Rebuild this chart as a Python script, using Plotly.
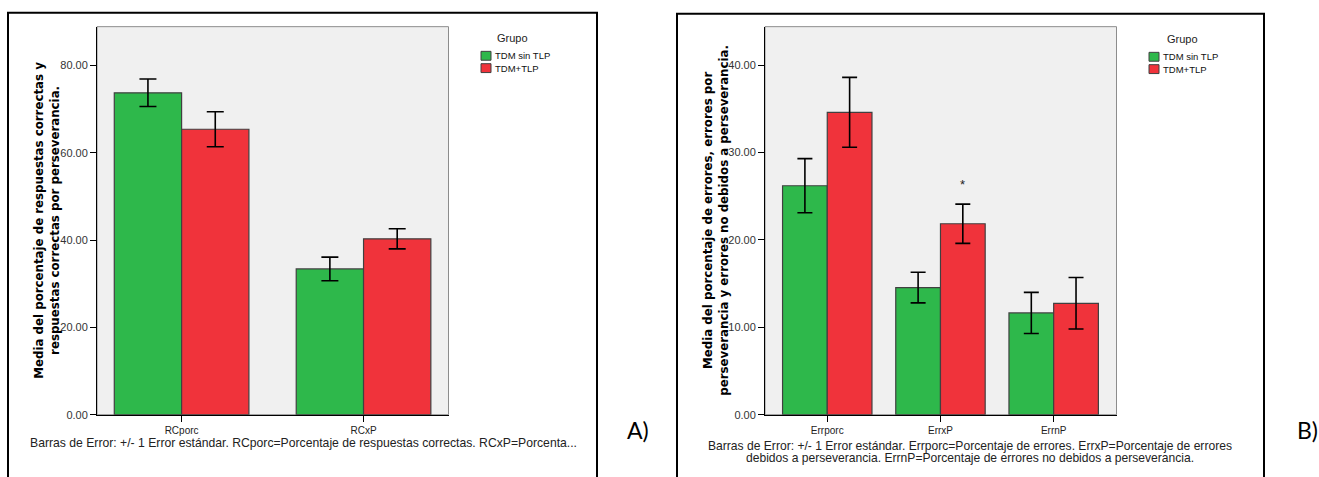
import plotly.graph_objects as go

# ---- data -------------------------------------------------------------
groups = ["TDM sin TLP", "TDM+TLP"]
group_colors = ["#2eb84b", "#f0333b"]

# Panel A: percentage of correct responses
cats_a = ["RCporc", "RCxP"]
mean_a_sin = [73.75, 33.4]
se_a_sin = [3.15, 2.7]
mean_a_tlp = [65.4, 40.3]
se_a_tlp = [4.0, 2.3]

# Panel B: percentage of errors
cats_b = ["Errporc", "ErrxP", "ErrnP"]
mean_b_sin = [26.2, 14.55, 11.65]
se_b_sin = [3.1, 1.75, 2.35]
mean_b_tlp = [34.6, 21.85, 12.75]
se_b_tlp = [4.0, 2.25, 2.95]

# significance marker above ErrxP (TDM+TLP)
star_cat_index = 1
star_y = 26.3

yticks_a = [0, 20, 40, 60, 80]
yticks_b = [0, 10, 20, 30, 40]

ytitle_a = "<b>Media del porcentaje de respuestas correctas y<br>respuestas correctas por perseverancia.</b>"
ytitle_b = "<b>Media del porcentaje de errores, errores por<br>perseverancia y errores no debidos a perseverancia.</b>"
caption_a = "Barras de Error: +/- 1 Error estándar. RCporc=Porcentaje de respuestas correctas. RCxP=Porcenta..."
caption_b = ["Barras de Error: +/- 1 Error estándar. Errporc=Porcentaje de errores. ErrxP=Porcentaje de errores",
             "debidos a perseverancia. ErrnP=Porcentaje de errores no debidos a perseverancia."]

# ---- layout helpers (pixel -> paper) ----------------------------------
W, H = 1319, 477


def px(x):
    return x / W


def py(y):
    return 1 - y / H


SANS = "Liberation Sans, Arial, sans-serif"
BOLD = "DejaVu Sans, Verdana, sans-serif"
OUTLINE = "#404040"

w_a = 0.37   # bar width (category units), panel A
w_b = 0.395  # bar width (category units), panel B

fig = go.Figure()


def add_panel(cats, means, ses, w, xa, ya, cap):
    for name, color, m, s in zip(groups, group_colors, means, ses):
        off = -w if name == groups[0] else 0
        fig.add_trace(go.Bar(
            x=cats, y=m, name=name, width=w, offset=off,
            marker=dict(color=color, line=dict(color=OUTLINE, width=1.2)),
            error_y=dict(type="data", array=s, color="black", thickness=1.6, width=cap),
            xaxis=xa, yaxis=ya, showlegend=False, hoverinfo="skip",
        ))


add_panel(cats_a, [mean_a_sin, mean_a_tlp], [se_a_sin, se_a_tlp], w_a, "x", "y", 8.5)
add_panel(cats_b, [mean_b_sin, mean_b_tlp], [se_b_sin, se_b_tlp], w_b, "x2", "y2", 7.5)

PLOT_TOP, PLOT_BOTTOM = 27, 420
ydom = [py(PLOT_BOTTOM), py(PLOT_TOP)]
axis_common = dict(showline=True, linecolor="black", linewidth=1, ticks="outside",
                   ticklen=6, tickcolor="black", tickwidth=1, showgrid=False,
                   zeroline=False, fixedrange=True)

fig.update_layout(
    width=W, height=H, autosize=False,
    margin=dict(l=0, r=0, t=0, b=0),
    paper_bgcolor="white", plot_bgcolor="rgba(0,0,0,0)",
    barmode="overlay", showlegend=False,
    xaxis=dict(domain=[px(97), px(448.5)], anchor="y", type="category",
               range=[-0.465, 1.467], tickfont=dict(family=SANS, size=10, color="#222"),
               **axis_common),
    yaxis=dict(domain=ydom, anchor="x", range=[0, 88.9], tickvals=yticks_a,
               tickformat=".2f", tickfont=dict(family=SANS, size=11, color="#333"),
               **axis_common),
    xaxis2=dict(domain=[px(765), px(1116.5)], anchor="y2", type="category",
                range=[-0.55, 2.555], tickfont=dict(family=SANS, size=10, color="#222"),
                **axis_common),
    yaxis2=dict(domain=ydom, anchor="x2", range=[0, 44.4], tickvals=yticks_b,
                tickformat=".2f", tickfont=dict(family=SANS, size=11, color="#333"),
                **axis_common),
)

shapes = []
# plot area background and frame
for xr, yr in (("x domain", "y domain"), ("x2 domain", "y2 domain")):
    shapes.append(dict(type="rect", xref=xr, yref=yr, x0=0, x1=1, y0=0, y1=1,
                       fillcolor="#f0f0f0", line=dict(color="#8c8c8c", width=1),
                       layer="below"))
# outer panel borders
for x0, x1, y0 in ((8, 597, 13), (677, 1264, 14)):
    shapes.append(dict(type="rect", xref="paper", yref="paper",
                       x0=px(x0), x1=px(x1), y0=-0.05, y1=py(y0),
                       line=dict(color="black", width=2), fillcolor="rgba(0,0,0,0)"))

annotations = []


def add_legend(cx, ty, sq_x):
    annotations.append(dict(text="Grupo", x=px(cx), y=py(ty), xref="paper", yref="paper",
                            showarrow=False, xanchor="center", yanchor="middle",
                            font=dict(family=SANS, size=11, color="#222")))
    for i, (name, color) in enumerate(zip(groups, group_colors)):
        yc = ty + 18.5 + i * 12.5
        shapes.append(dict(type="rect", xref="paper", yref="paper",
                           x0=px(sq_x), x1=px(sq_x + 10), y0=py(yc + 4.5), y1=py(yc - 4.5),
                           fillcolor=color, line=dict(color=OUTLINE, width=1)))
        annotations.append(dict(text=name, x=px(sq_x + 11.5), y=py(yc), xref="paper", yref="paper",
                                showarrow=False, xanchor="left", yanchor="middle",
                                font=dict(family=SANS, size=9.5, color="#111")))


add_legend(512, 38, 481)
add_legend(1182, 39, 1149)

# rotated axis titles
for xc, t in ((47, ytitle_a), (716, ytitle_b)):
    annotations.append(dict(text=t, x=px(xc), y=py((PLOT_TOP + PLOT_BOTTOM) / 2), xref="paper",
                            yref="paper", showarrow=False, textangle=-90, xanchor="center",
                            yanchor="middle", align="center",
                            font=dict(family=BOLD, size=11.8, color="black")))

# footnotes
annotations.append(dict(text=caption_a, x=px(28), y=py(449), xref="paper", yref="paper",
                        showarrow=False, xanchor="left", yanchor="middle",
                        font=dict(family=SANS, size=12.2, color="#222")))
for i, line in enumerate(caption_b):
    annotations.append(dict(text=line, x=px(970), y=py(451.5 + i * 12.5), xref="paper",
                            yref="paper", showarrow=False, xanchor="center", yanchor="middle",
                            font=dict(family=SANS, size=12.1, color="#222")))

# significance asterisk above the TDM+TLP bar of ErrxP
annotations.append(dict(text="*", x=star_cat_index + w_b / 2, y=star_y, xref="x2", yref="y2",
                        showarrow=False, xanchor="center", yanchor="middle",
                        font=dict(family=SANS, size=13, color="#222")))

# panel letters
for xc, t in ((638, "A)"), (1307, "B)")):
    annotations.append(dict(text=t, x=px(xc), y=py(435), xref="paper", yref="paper",
                            showarrow=False, xanchor="center", yanchor="middle",
                            font=dict(family="Lato, Open Sans, sans-serif", size=23, color="black")))

fig.update_layout(shapes=shapes, annotations=annotations)

fig.write_html("out.html")
